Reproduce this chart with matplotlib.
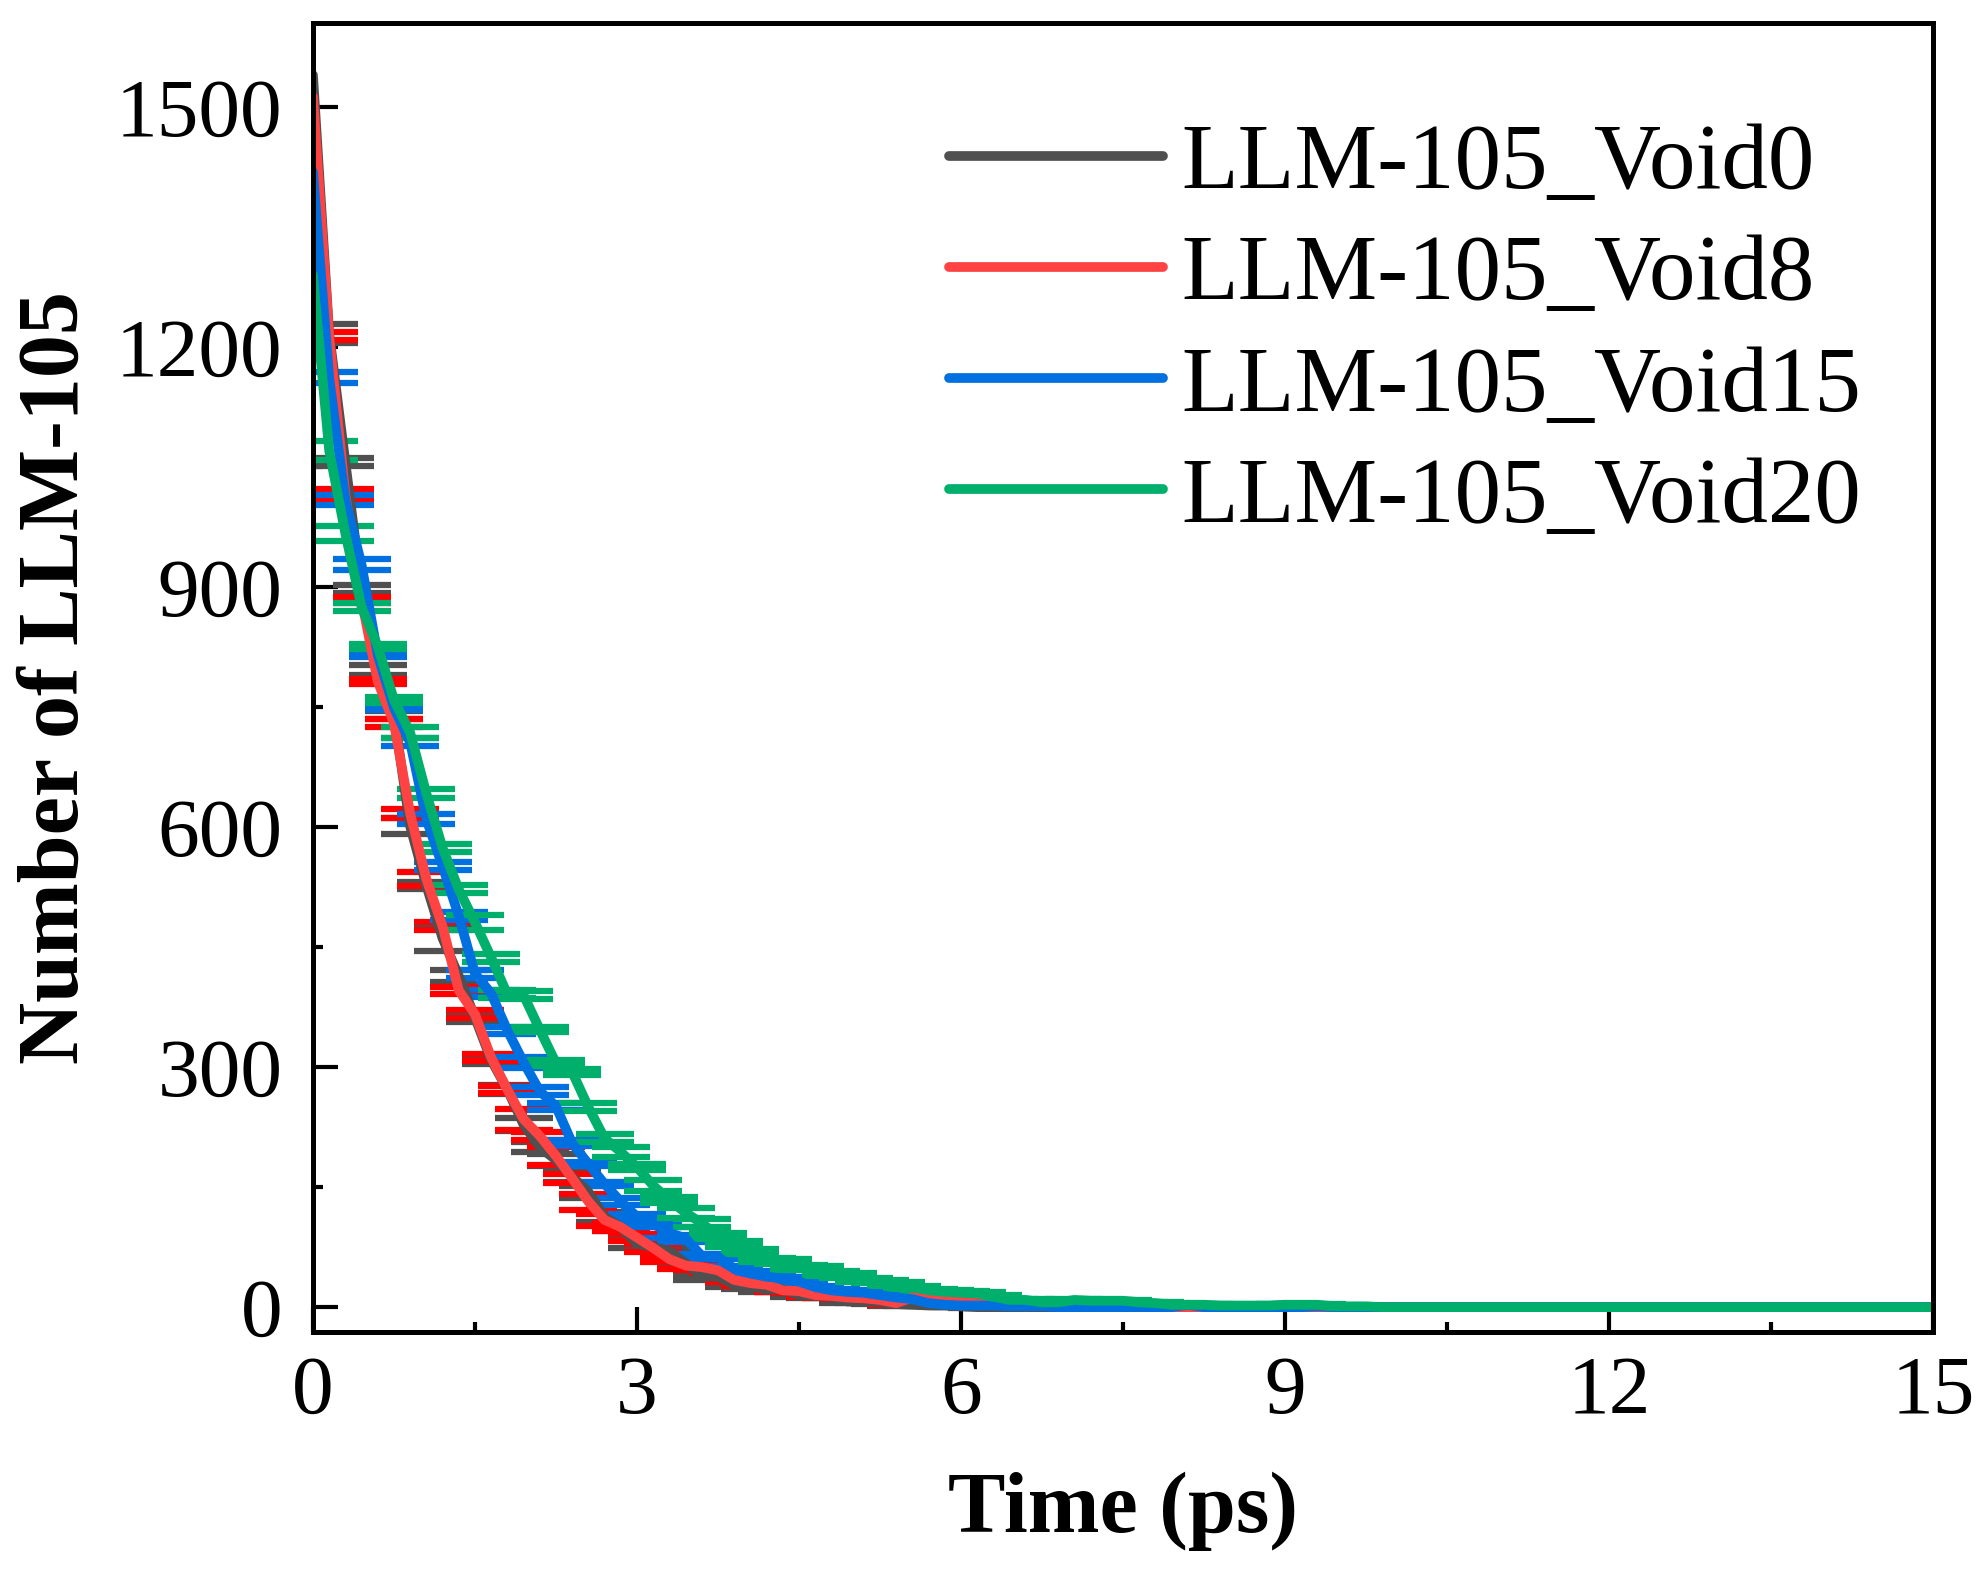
import numpy as np
import matplotlib
matplotlib.use("Agg")
import matplotlib.pyplot as plt
from matplotlib.ticker import MultipleLocator
from matplotlib.lines import Line2D

plt.rcParams['font.family'] = ['Liberation Serif', 'DejaVu Serif']

# time grid (ps), one sample every 0.15 ps
time_ps = np.round(np.arange(101) * 0.15, 2)

labels = ["LLM-105_Void0", "LLM-105_Void8", "LLM-105_Void15", "LLM-105_Void20"]

void0 = [1540, 1217, 1056, 897, 796, 740, 601, 527, 461, 414,
         362, 309, 272, 228, 200, 184, 163, 144, 113, 100,
         79, 75, 70, 55, 38, 38, 28, 26, 22, 22,
         15, 14, 13, 7, 7, 6, 4, 3, 2, 2,
         1, 0, 0, 0, 0, 0, 0, 0, 0, 0,
         0, 0, 0, 0, 0, 0, 0, 0, 0, 0,
         0, 0, 0, 0, 0, 0, 0, 0, 0, 0,
         0, 0, 0, 0, 0, 0, 0, 0, 0, 0,
         0, 0, 0, 0, 0, 0, 0, 0, 0, 0,
         0, 0, 0, 0, 0, 0, 0, 0, 0, 0,
         0]
void8 = [1513, 1214, 1015, 884, 782, 730, 617, 535, 476, 396,
         366, 312, 272, 235, 214, 189, 161, 132, 109, 100,
         87, 74, 60, 52, 50, 46, 34, 30, 28, 21,
         20, 15, 14, 12, 11, 9, 5, 12, 11, 10,
         10, 5, 3, 2, 1, 4, 2, 4, 1, 0,
         0, 0, 0, 0, 0, 0, 0, 0, 0, 0,
         0, 0, 0, 0, 0, 0, 0, 0, 0, 0,
         0, 0, 0, 0, 0, 0, 0, 0, 0, 0,
         0, 0, 0, 0, 0, 0, 0, 0, 0, 0,
         0, 0, 0, 0, 0, 0, 0, 0, 0, 0,
         0]
void15 = [1419, 1162, 1009, 928, 815, 749, 706, 610, 551, 489,
          417, 392, 346, 306, 270, 251, 205, 179, 154, 132,
          113, 104, 93, 86, 64, 63, 48, 42, 38, 36,
          32, 25, 21, 19, 18, 15, 12, 10, 5, 3,
          2, 2, 2, 1, 1, 1, 0, 0, 0, 0,
          0, 0, 0, 0, 3, 0, 0, 0, 0, 0,
          0, 0, 1, 0, 0, 0, 0, 0, 0, 0,
          0, 0, 0, 0, 0, 0, 0, 0, 0, 0,
          0, 0, 0, 0, 0, 0, 0, 0, 0, 0,
          0, 0, 0, 0, 0, 0, 0, 0, 0, 0,
          0]
void20 = [1290, 1071, 967, 875, 826, 759, 718, 642, 574, 522,
          481, 437, 391, 390, 347, 305, 294, 250, 211, 194,
          175, 152, 134, 118, 105, 89, 79, 70, 59, 57,
          50, 49, 42, 40, 34, 32, 29, 25, 21, 19,
          18, 17, 13, 9, 9, 6, 6, 9, 8, 8,
          8, 6, 5, 3, 3, 3, 2, 2, 2, 2,
          3, 3, 3, 1, 1, 1, 0, 0, 0, 0,
          0, 0, 0, 0, 0, 0, 0, 0, 0, 0,
          0, 0, 0, 0, 0, 0, 0, 0, 0, 0,
          0, 0, 0, 0, 0, 0, 0, 0, 0, 0,
          0]

# error bar half-heights
err0 = [0, 12, 5, 5, 6, 5, 10, 4, 16, 7,
        6, 5, 6, 8, 6, 7, 6, 8, 6, 5,
        5, 5, 4, 4, 4, 3, 3, 3, 3, 3,
        2, 2, 2, 2, 2, 2, 2, 1, 1, 1,
        1, 1, 1, 1, 1, 1, 1, 1, 1, 1,
        0, 0, 0, 0, 0, 0, 0, 0, 0, 0,
        0, 0, 0, 0, 0, 0, 0, 0, 0, 0,
        0, 0, 0, 0, 0, 0, 0, 0, 0, 0,
        0, 0, 0, 0, 0, 0, 0, 0, 0, 0,
        0, 0, 0, 0, 0, 0, 0, 0, 0, 0,
        0]
err8 = [0, 5, 7, 4, 3, 5, 6, 9, 5, 4,
        5, 4, 4, 13, 5, 11, 6, 10, 8, 5,
        4, 5, 4, 4, 3, 3, 3, 3, 3, 2,
        2, 2, 2, 2, 2, 2, 2, 2, 2, 2,
        2, 1, 1, 1, 1, 1, 1, 1, 1, 1,
        0, 0, 0, 0, 0, 0, 0, 0, 0, 0,
        0, 0, 0, 0, 0, 0, 0, 0, 0, 0,
        0, 0, 0, 0, 0, 0, 0, 0, 0, 0,
        0, 0, 0, 0, 0, 0, 0, 0, 0, 0,
        0, 0, 0, 0, 0, 0, 0, 0, 0, 0,
        0]
err15 = [0, 7, 6, 7, 3, 3, 5, 6, 5, 5,
         5, 4, 4, 7, 5, 4, 4, 3, 3, 4,
         4, 4, 7, 4, 3, 3, 3, 3, 2, 2,
         2, 2, 2, 2, 2, 2, 1, 1, 1, 1,
         1, 1, 1, 1, 1, 1, 1, 1, 1, 1,
         0, 0, 0, 0, 0, 0, 0, 0, 0, 0,
         0, 0, 0, 0, 0, 0, 0, 0, 0, 0,
         0, 0, 0, 0, 0, 0, 0, 0, 0, 0,
         0, 0, 0, 0, 0, 0, 0, 0, 0, 0,
         0, 0, 0, 0, 0, 0, 0, 0, 0, 0,
         0]
err20 = [0, 12, 9, 5, 3, 4, 7, 6, 5, 5,
         9, 5, 5, 5, 3, 4, 4, 5, 5, 6,
         4, 7, 4, 6, 5, 4, 4, 3, 3, 3,
         3, 3, 3, 3, 2, 2, 2, 2, 2, 2,
         2, 2, 2, 1, 1, 1, 1, 1, 1, 1,
         1, 1, 1, 1, 1, 1, 1, 1, 1, 1,
         1, 1, 1, 1, 1, 1, 0, 0, 0, 0,
         0, 0, 0, 0, 0, 0, 0, 0, 0, 0,
         0, 0, 0, 0, 0, 0, 0, 0, 0, 0,
         0, 0, 0, 0, 0, 0, 0, 0, 0, 0,
         0]

series = [void0, void8, void15, void20]
errors = [err0, err8, err15, err20]
line_colors = ["#505050", "#FF4343", "#0070E0", "#00AF6B"]
err_colors = ["#505050", "#FF0000", "#0070E0", "#00AF6B"]

fig = plt.figure(figsize=(19.87, 15.77), dpi=100)
ax = fig.add_axes([0.1575, 0.1554, 0.8153, 0.8300])

handles = []
for y, e, lc, ec in zip(series, errors, line_colors, err_colors):
    # no error bar on the t = 0 point
    ax.errorbar(time_ps, y, yerr=e, color=lc, ecolor=ec, lw=7,
                elinewidth=3.5, capsize=21, capthick=4.5, errorevery=(1, 1),
                solid_capstyle="round")
    handles.append(Line2D([], [], color=lc, lw=7, solid_capstyle="round"))

ax.set_xlim(0, 15)
ax.set_ylim(-31, 1605)
ax.xaxis.set_major_locator(MultipleLocator(3))
ax.xaxis.set_minor_locator(MultipleLocator(1.5))
ax.yaxis.set_major_locator(MultipleLocator(300))
ax.yaxis.set_minor_locator(MultipleLocator(150))

ax.tick_params(which="both", direction="in", top=False, right=False)
ax.tick_params(which="major", length=18, width=3, labelsize=60)
ax.tick_params(which="minor", length=7, width=3)
ax.tick_params(axis="x", which="major", pad=17)
ax.tick_params(axis="y", which="major", pad=22)
for sp in ax.spines.values():
    sp.set_linewidth(3.6)

ax.set_xlabel("Time (ps)", fontsize=62, fontweight="bold", labelpad=29)
ax.set_ylabel("Number of LLM-105", fontsize=62, fontweight="bold", labelpad=14)

ax.legend(handles, labels, loc="upper left", bbox_to_anchor=(0.3925, 0.9236),
          frameon=False, fontsize=67, handlelength=2.3, handletextpad=0.2,
          labelspacing=0.28, borderpad=0, borderaxespad=0)

fig.savefig("out.png", dpi=100)
